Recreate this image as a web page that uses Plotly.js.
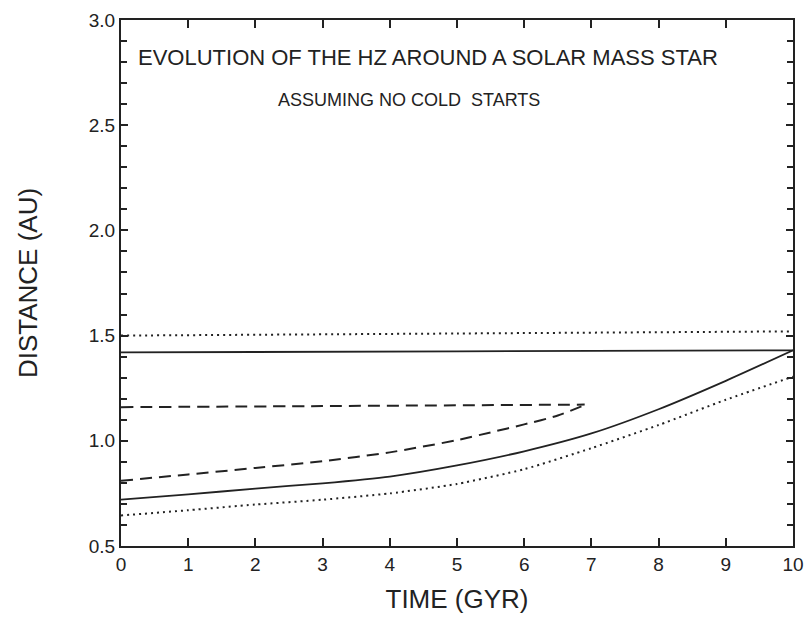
<!DOCTYPE html>
<html>
<head>
<meta charset="utf-8">
<script src="https://cdn.plot.ly/plotly-3.0.1.min.js"></script>
<style>html,body{margin:0;padding:0;background:#fff;}#chart{width:808px;height:625px;}</style>
</head>
<body>
<div id="chart"></div>
<script>
var outerTopX = [0, 5, 10];
var outerTopY = [1.50, 1.51, 1.52];

var solidTopX = [0, 5, 10];
var solidTopY = [1.42, 1.425, 1.43];

var dashTopX = [0, 3, 6.9];
var dashTopY = [1.16, 1.165, 1.172];

var solidLowX = [0, 1, 2, 3, 4, 5, 6, 7, 8, 9, 10];
var solidLowY = [0.72, 0.745, 0.773, 0.798, 0.83, 0.883, 0.95, 1.035, 1.15, 1.285, 1.43];

var dashLowX = [0, 1, 2, 3, 4, 5, 5.5, 6, 6.5, 6.9];
var dashLowY = [0.81, 0.84, 0.871, 0.903, 0.945, 1.003, 1.04, 1.078, 1.12, 1.17];

var dotLowX = [0, 1, 2, 3, 4, 5, 6, 7, 8, 9, 10];
var dotLowY = [0.645, 0.67, 0.697, 0.72, 0.75, 0.795, 0.865, 0.965, 1.075, 1.195, 1.305];

var titleText = "EVOLUTION OF THE HZ AROUND A SOLAR MASS STAR";
var subText = "ASSUMING NO COLD&nbsp;&nbsp;STARTS";
var xTitle = "TIME (GYR)";
var yTitle = "DISTANCE (AU)";

var ink = "#222";
var dotStyle = "2px,4px";
var dashStyle = "12px,7px";

function tr(x, y, dash) {
  return {x: x, y: y, type: "scatter", mode: "lines",
    line: {color: ink, width: dash === "solid" ? 1.8 : 2, dash: dash, shape: "spline", smoothing: 0.6},
    hoverinfo: "skip", showlegend: false};
}

var data = [
  tr(outerTopX, outerTopY, dotStyle),
  tr(solidTopX, solidTopY, "solid"),
  tr(dashTopX, dashTopY, dashStyle),
  tr(solidLowX, solidLowY, "solid"),
  tr(dashLowX, dashLowY, dashStyle),
  tr(dotLowX, dotLowY, dotStyle)
];

var fontFam = "Liberation Sans, Arial, sans-serif";

var layout = {
  width: 808, height: 625,
  paper_bgcolor: "#fff", plot_bgcolor: "#fff",
  margin: {l: 121, r: 15, t: 20, b: 79},
  font: {family: fontFam, color: ink},
  showlegend: false,
  xaxis: {
    range: [0, 10], dtick: 1, tick0: 0,
    showgrid: false, zeroline: false,
    showline: true, linecolor: ink, linewidth: 2, mirror: "allticks",
    ticks: "inside", ticklen: 8, tickwidth: 2, tickcolor: ink,
    tickfont: {size: 19, family: fontFam, color: ink},
    title: {text: xTitle, font: {size: 26, family: fontFam, color: ink}, standoff: 16}
  },
  yaxis: {
    range: [0.5, 3.0], dtick: 0.5, tick0: 0.5, tickformat: ".1f",
    showgrid: false, zeroline: false,
    showline: true, linecolor: ink, linewidth: 2, mirror: "allticks",
    ticks: "inside", ticklen: 7, tickwidth: 2, tickcolor: ink,
    minor: {dtick: 0.1, ticks: "inside", ticklen: 6, tickwidth: 2, tickcolor: ink, showgrid: false},
    tickfont: {size: 19, family: fontFam, color: ink},
    title: {text: yTitle, font: {size: 26, family: fontFam, color: ink}, standoff: 44}
  },
  annotations: [
    {text: titleText, xref: "paper", yref: "paper", x: 0.457, y: 0.928,
      xanchor: "center", yanchor: "middle", showarrow: false,
      font: {size: 22, family: fontFam, color: ink}},
    {text: subText, xref: "paper", yref: "paper", x: 0.4286, y: 0.848,
      xanchor: "center", yanchor: "middle", showarrow: false,
      font: {size: 18, family: fontFam, color: ink}}
  ]
};

Plotly.newPlot("chart", data, layout, {staticPlot: true, displayModeBar: false});
</script>
</body>
</html>
